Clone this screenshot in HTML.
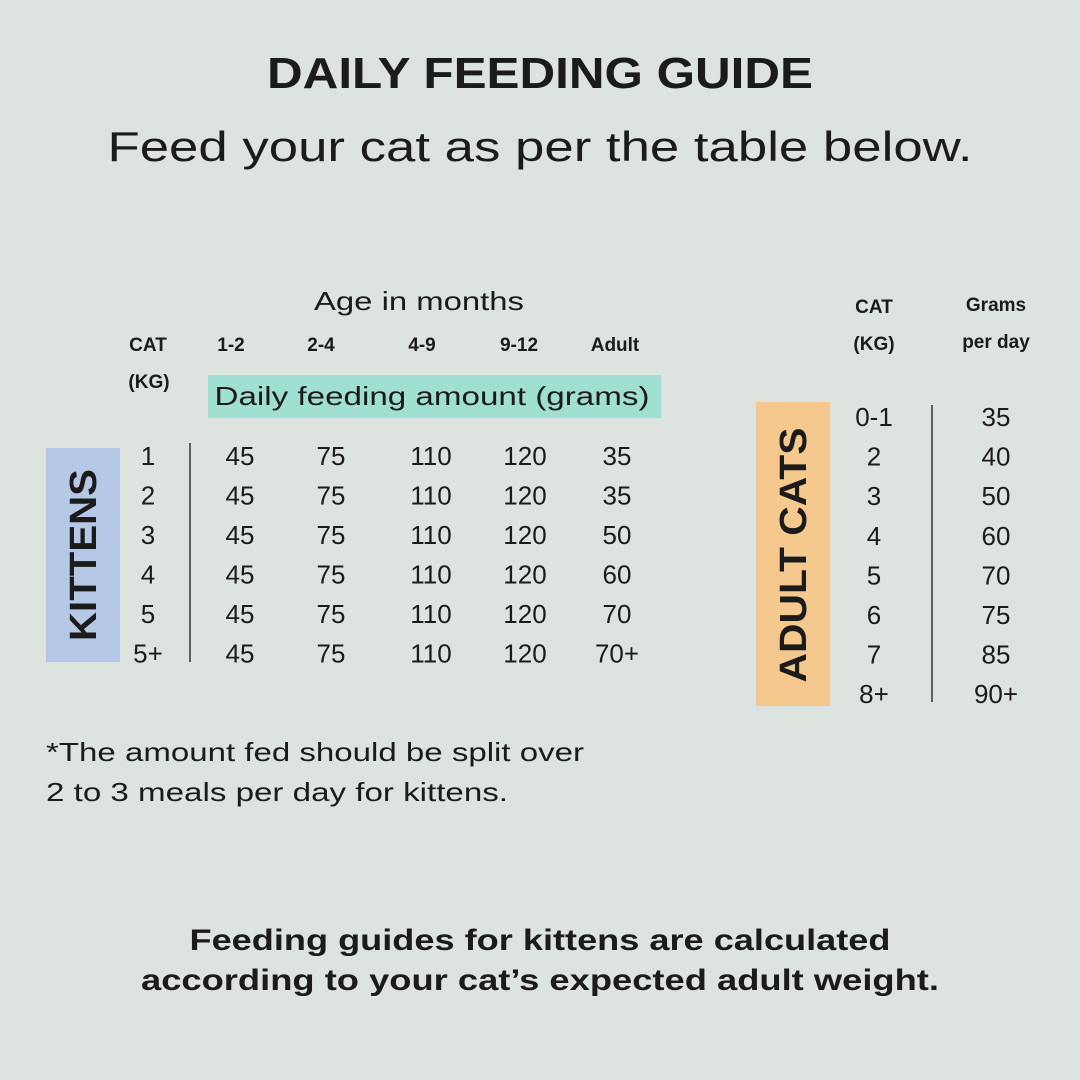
<!DOCTYPE html>
<html><head><meta charset="utf-8"><style>
html,body{margin:0;padding:0;background:#dde3df;}
svg{display:block;}
text{font-family:"Liberation Sans",sans-serif;fill:#1b1b1b;}
.b{font-weight:bold;}
</style></head><body>
<svg id="chart" width="1080" height="1080" viewBox="0 0 1080 1080">
<rect width="1080" height="1080" fill="#dde3df"/>
<text x="540" y="88" text-anchor="middle" class="b" font-size="44" textLength="546" lengthAdjust="spacingAndGlyphs">DAILY FEEDING GUIDE</text>
<text x="540" y="161" text-anchor="middle" font-size="42" textLength="865" lengthAdjust="spacingAndGlyphs">Feed your cat as per the table below.</text>
<text x="419" y="310" text-anchor="middle" font-size="26" textLength="210" lengthAdjust="spacingAndGlyphs">Age in months</text>
<text x="148" y="351" text-anchor="middle" class="b" font-size="19">CAT</text>
<text x="149" y="388" text-anchor="middle" class="b" font-size="19">(KG)</text>
<rect x="208" y="375" width="453" height="43" fill="#9fe0d3"/>
<text x="432" y="405" text-anchor="middle" font-size="26" textLength="435" lengthAdjust="spacingAndGlyphs">Daily feeding amount (grams)</text>
<rect x="46" y="448" width="74" height="214" fill="#b5c8e6"/>
<text transform="translate(96,555) rotate(-90)" text-anchor="middle" class="b" font-size="38" textLength="172" lengthAdjust="spacingAndGlyphs">KITTENS</text>
<line x1="190" y1="443" x2="190" y2="662" stroke="#333" stroke-width="1.5"/>
<rect x="756" y="402" width="74" height="304" fill="#f5c98e"/>
<text transform="translate(806,555) rotate(-90)" text-anchor="middle" class="b" font-size="38" textLength="255" lengthAdjust="spacingAndGlyphs">ADULT CATS</text>
<text x="874" y="313" text-anchor="middle" class="b" font-size="19">CAT</text>
<text x="874" y="350" text-anchor="middle" class="b" font-size="19">(KG)</text>
<text x="996" y="311" text-anchor="middle" class="b" font-size="19">Grams</text>
<text x="996" y="348" text-anchor="middle" class="b" font-size="19">per day</text>
<line x1="932" y1="405" x2="932" y2="702" stroke="#333" stroke-width="1.5"/>
<text x="46" y="761" font-size="26" textLength="538" lengthAdjust="spacingAndGlyphs">*The amount fed should be split over</text>
<text x="46" y="801" font-size="26" textLength="462" lengthAdjust="spacingAndGlyphs">2 to 3 meals per day for kittens.</text>
<text x="540" y="950" text-anchor="middle" class="b" font-size="30" textLength="701" lengthAdjust="spacingAndGlyphs">Feeding guides for kittens are calculated</text>
<text x="540" y="990" text-anchor="middle" class="b" font-size="30" textLength="798" lengthAdjust="spacingAndGlyphs">according to your cat’s expected adult weight.</text>
</svg>
<script>
const ageCols = ["1-2","2-4","4-9","9-12","Adult"];
const kittenWeights = ["1","2","3","4","5","5+"];
const kittenValues = [
 ["45","75","110","120","35"],
 ["45","75","110","120","35"],
 ["45","75","110","120","50"],
 ["45","75","110","120","60"],
 ["45","75","110","120","70"],
 ["45","75","110","120","70+"]
];
const adultWeights = ["0-1","2","3","4","5","6","7","8+"];
const adultGrams = ["35","40","50","60","70","75","85","90+"];

const NS="http://www.w3.org/2000/svg";
const svg=document.getElementById('chart');
const colX=i=>[231,321,422,519,615][i];
const kRowY=i=>465+i*39.5;
const aRowY=i=>426+i*39.6;
function txt(x,y,s,size,bold){
  const t=document.createElementNS(NS,'text');
  t.setAttribute('x',x);t.setAttribute('y',y);
  t.setAttribute('text-anchor','middle');
  t.setAttribute('font-size',size);
  if(bold)t.setAttribute('font-weight','bold');
  t.textContent=s;svg.appendChild(t);return t;
}
ageCols.forEach((c,i)=>{
  const t=txt(colX(i),351,c,19,true);
  
  
});
kittenWeights.forEach((w,r)=>{
  const t=txt(148,kRowY(r),w,26,false);
  
  
  kittenValues[r].forEach((v,c)=>{
    const cx=[240,331,431,525,617][c];
    const u=txt(cx,kRowY(r),v,26,false);
    
    
  });
});
adultWeights.forEach((w,r)=>{
  const t=txt(874,aRowY(r),w,26,false);
  
  
  const u=txt(996,aRowY(r),adultGrams[r],26,false);
  
  
});
</script>
</body></html>
